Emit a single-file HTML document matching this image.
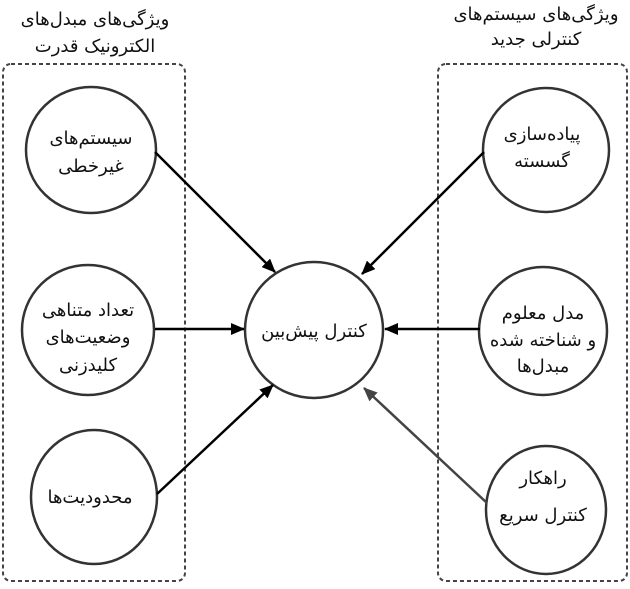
<!DOCTYPE html>
<html><head><meta charset="utf-8"><style>
body{margin:0;background:#fff;}
svg text{font-family:"DejaVu Sans",sans-serif;font-size:18px;fill:#111;text-anchor:middle;direction:rtl;}
</style></head><body>
<svg width="630" height="584" viewBox="0 0 630 584" xmlns="http://www.w3.org/2000/svg">
<defs>
<marker id="a" markerWidth="14" markerHeight="12" refX="13" refY="6" orient="auto" markerUnits="userSpaceOnUse" viewBox="0 0 14 12"><path d="M0,0 L14,6 L0,12 z" fill="#000"/></marker>
<marker id="g" markerWidth="14" markerHeight="12" refX="13" refY="6" orient="auto" markerUnits="userSpaceOnUse" viewBox="0 0 14 12"><path d="M0,0 L14,6 L0,12 z" fill="#444"/></marker>
</defs>
<rect x="3" y="64" width="182" height="517" rx="8" fill="none" stroke="#444" stroke-width="2" stroke-dasharray="4,3"/>
<rect x="438" y="64" width="189" height="517" rx="8" fill="none" stroke="#444" stroke-width="2" stroke-dasharray="4,3"/>
<text x="95" y="25">ویژگی‌های مبدل‌های</text>
<text x="95" y="52">الکترونیک قدرت</text>
<text x="536" y="20">ویژگی‌های سیستم‌های</text>
<text x="536" y="45">کنترلی جدید</text>
<g fill="#fff" stroke="#333" stroke-width="2.5">
<ellipse cx="91" cy="150" rx="65" ry="63"/>
<ellipse cx="88" cy="330" rx="66" ry="65"/>
<ellipse cx="94" cy="497" rx="63" ry="67"/>
<ellipse cx="314" cy="330" rx="69" ry="68"/>
<ellipse cx="546" cy="150" rx="63" ry="62"/>
<ellipse cx="543" cy="331" rx="64" ry="64"/>
<ellipse cx="546" cy="510" rx="60" ry="64"/>
</g>
<g stroke="#000" stroke-width="2.5" fill="none">
<line x1="155" y1="152" x2="275" y2="272" marker-end="url(#a)"/>
<line x1="155" y1="329" x2="244" y2="329" marker-end="url(#a)"/>
<line x1="157" y1="494" x2="273" y2="385" marker-end="url(#a)"/>
<line x1="484" y1="152" x2="362" y2="274" marker-end="url(#a)"/>
<line x1="480" y1="329" x2="385" y2="329" marker-end="url(#a)"/>
<line x1="487" y1="503" x2="364" y2="388" stroke="#444" marker-end="url(#g)"/>
</g>
<text x="91" y="144">سیستم‌های</text>
<text x="91" y="172">غیرخطی</text>
<text x="88" y="316">تعداد متناهی</text>
<text x="88" y="343">وضعیت‌های</text>
<text x="88" y="371">کلیدزنی</text>
<text x="90" y="503">محدودیت‌ها</text>
<text x="314" y="337">کنترل پیش‌بین</text>
<text x="542" y="140">پیاده‌سازی</text>
<text x="542" y="167">گسسته</text>
<text x="543" y="319">مدل معلوم</text>
<text x="543" y="346">و شناخته شده</text>
<text x="543" y="372">مبدل‌ها</text>
<text x="543" y="484">راهکار</text>
<text x="543" y="521">کنترل سریع</text>
</svg>
</body></html>
